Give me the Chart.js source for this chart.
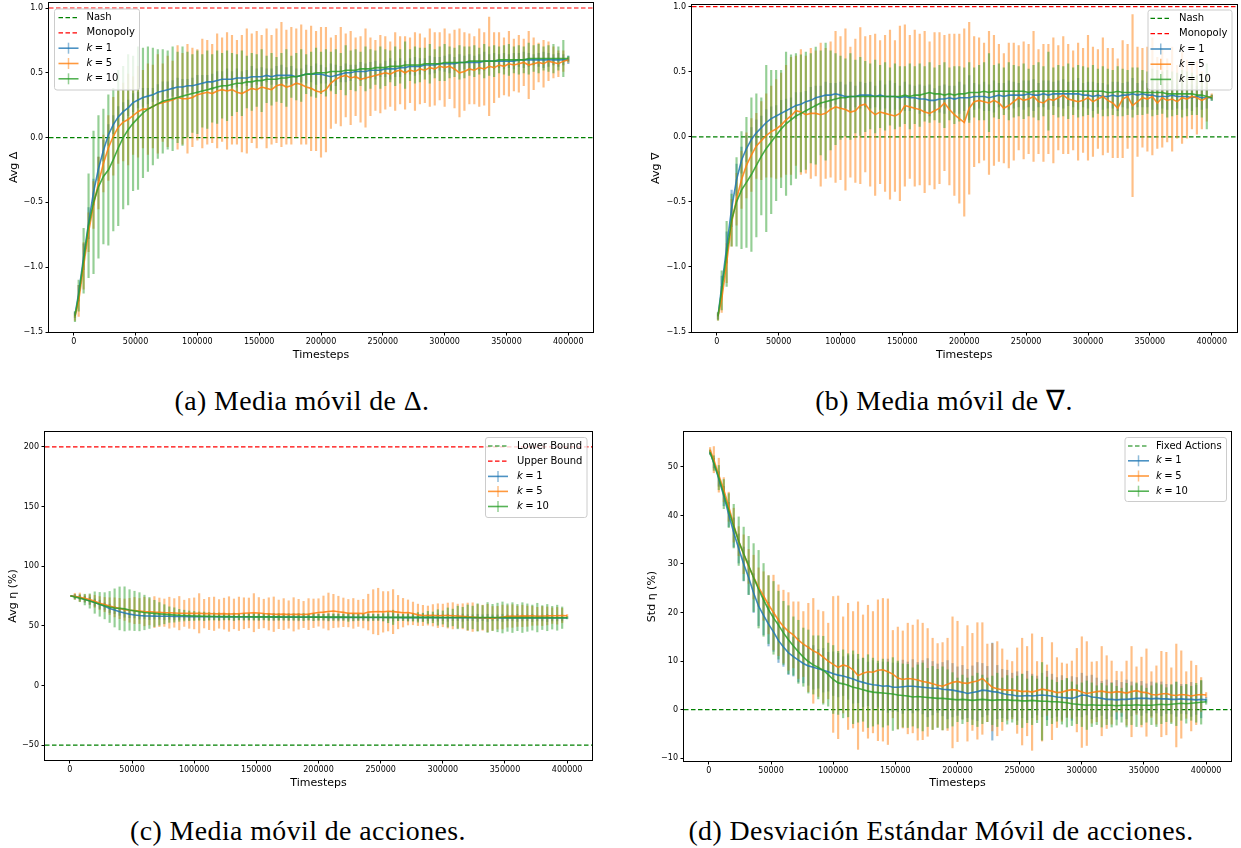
<!DOCTYPE html>
<html><head><meta charset="utf-8">
<script src="https://cdn.jsdelivr.net/npm/chart.js@4.4.1/dist/chart.umd.min.js"></script>
<style>
html,body{margin:0;padding:0;background:#fff;}
#wrap{position:relative;width:1241px;height:848px;overflow:hidden;background:#fff;}
canvas{position:absolute;}
.cap{position:absolute;font-family:'Liberation Serif',serif;font-size:27.8px;letter-spacing:0.45px;white-space:nowrap;transform:translate(-50%,-50%);color:#000;line-height:1;}
</style></head><body>
<div id="wrap">
<canvas id="ca" width="620" height="372" style="left:0px;top:0px"></canvas>
<canvas id="cb" width="621" height="372" style="left:620px;top:0px"></canvas>
<canvas id="cc" width="620" height="372" style="left:0px;top:420px"></canvas>
<canvas id="cd" width="621" height="372" style="left:620px;top:420px"></canvas>
<div class="cap" style="left:302px;top:401px">(a) Media móvil de Δ.</div>
<div class="cap" style="left:944px;top:401px">(b) Media móvil de ∇.</div>
<div class="cap" style="left:298px;top:831px">(c) Media móvil de acciones.</div>
<div class="cap" style="left:941px;top:831px">(d) Desviación Estándar Móvil de acciones.</div>
</div>
<script>
// ---------- DATA ----------
const T = [1000,4000,8000,12000,16000,20000,24000,28000,32000,36000,
40000,44000,48000,52000,56000,60000,64000,68000,72000,76000,
80000,84000,88000,92000,96000,100000,104000,108000,112000,116000,
120000,124000,128000,132000,136000,140000,144000,148000,152000,156000,
160000,164000,168000,172000,176000,180000,184000,188000,192000,196000,
200000,204000,208000,212000,216000,220000,224000,228000,232000,236000,
240000,244000,248000,252000,256000,260000,264000,268000,272000,276000,
280000,284000,288000,292000,296000,300000,304000,308000,312000,316000,
320000,324000,328000,332000,336000,340000,344000,348000,352000,356000,
360000,364000,368000,372000,376000,380000,384000,388000,392000,396000,
400000];
const X_TICKS = [0,50000,100000,150000,200000,250000,300000,350000,400000];
const K_VALUES = [1,5,10];
const REF_AB = ['Nash','Monopoly'];
const REF_C = ['Lower Bound','Upper Bound'];
const REF_D = ['Fixed Actions'];
const REF_AB_Y = [0,1];
const REF_C_Y = [-50,200];
const REF_D_Y = [0];
const Y_TICKS_AB = [-1.5,-1.0,-0.5,0.0,0.5,1.0];
const Y_TICKS_C = [-50,0,50,100,150,200];
const Y_TICKS_D = [-10,0,10,20,30,40,50];

// (a) Avg Delta
const aBlue = [-1.37,-1.20,-0.92,-0.66,-0.42,-0.24,-0.10,0.02,0.10,0.16,
0.20,0.23,0.27,0.29,0.31,0.32,0.33,0.35,0.36,0.37,
0.38,0.39,0.39,0.40,0.40,0.41,0.42,0.43,0.43,0.44,
0.45,0.45,0.45,0.46,0.46,0.46,0.47,0.47,0.47,0.48,
0.47,0.48,0.48,0.48,0.48,0.47,0.48,0.49,0.49,0.49,
0.49,0.48,0.47,0.48,0.49,0.50,0.50,0.51,0.51,0.51,
0.52,0.52,0.52,0.53,0.53,0.53,0.54,0.54,0.55,0.55,
0.55,0.56,0.56,0.56,0.57,0.57,0.57,0.57,0.58,0.58,
0.58,0.58,0.58,0.59,0.59,0.59,0.59,0.59,0.59,0.59,
0.60,0.60,0.60,0.60,0.60,0.60,0.60,0.60,0.60,0.60,
0.60];
const aBlueErr = [0.02,0.06,0.10,0.12,0.10,0.09,0.08,0.08,0.07,0.08,
0.07,0.06,0.07,0.06,0.07,0.06,0.05,0.06,0.07,0.06,
0.06,0.07,0.06,0.05,0.06,0.07,0.06,0.05,0.06,0.07,
0.06,0.08,0.06,0.07,0.05,0.06,0.08,0.06,0.07,0.05,
0.06,0.07,0.08,0.06,0.07,0.06,0.05,0.07,0.06,0.08,
0.07,0.06,0.10,0.08,0.06,0.07,0.06,0.05,0.07,0.06,
0.06,0.07,0.05,0.06,0.08,0.06,0.07,0.05,0.06,0.07,
0.06,0.05,0.07,0.06,0.05,0.06,0.07,0.05,0.06,0.05,
0.06,0.05,0.06,0.07,0.05,0.06,0.05,0.06,0.05,0.06,
0.05,0.06,0.05,0.04,0.05,0.06,0.05,0.04,0.05,0.04,
0.03];
const aOrange = [-1.38,-1.26,-0.99,-0.73,-0.52,-0.35,-0.20,-0.08,0.01,0.08,
0.12,0.14,0.17,0.20,0.22,0.22,0.24,0.26,0.27,0.28,
0.29,0.31,0.30,0.30,0.31,0.33,0.34,0.35,0.34,0.36,
0.37,0.36,0.37,0.35,0.34,0.36,0.38,0.37,0.39,0.38,
0.37,0.40,0.41,0.39,0.40,0.42,0.41,0.39,0.38,0.36,
0.35,0.37,0.42,0.45,0.47,0.48,0.46,0.47,0.45,0.46,
0.47,0.48,0.49,0.50,0.49,0.51,0.52,0.50,0.52,0.51,
0.53,0.52,0.54,0.53,0.55,0.54,0.55,0.53,0.50,0.51,
0.53,0.52,0.54,0.53,0.55,0.54,0.56,0.55,0.57,0.56,
0.57,0.58,0.56,0.57,0.58,0.57,0.59,0.58,0.57,0.59,
0.60];
const aOrangeErr = [0.03,0.12,0.18,0.15,0.18,0.20,0.22,0.25,0.30,0.28,
0.30,0.35,0.30,0.35,0.30,0.35,0.32,0.38,0.30,0.35,
0.30,0.40,0.35,0.42,0.38,0.35,0.42,0.40,0.38,0.44,
0.40,0.45,0.42,0.40,0.45,0.48,0.42,0.45,0.40,0.46,
0.42,0.44,0.48,0.44,0.45,0.42,0.46,0.44,0.48,0.46,
0.50,0.48,0.35,0.34,0.38,0.32,0.36,0.30,0.33,0.38,
0.30,0.27,0.30,0.28,0.25,0.30,0.26,0.28,0.25,0.30,
0.27,0.25,0.30,0.28,0.26,0.30,0.25,0.30,0.34,0.30,
0.27,0.26,0.30,0.28,0.38,0.27,0.25,0.22,0.25,0.20,
0.22,0.18,0.26,0.20,0.15,0.18,0.15,0.12,0.10,0.08,
0.02];
const aGreen = [-1.38,-1.22,-0.95,-0.68,-0.50,-0.38,-0.30,-0.25,-0.17,-0.08,
0.00,0.06,0.11,0.15,0.19,0.22,0.24,0.26,0.28,0.29,
0.30,0.31,0.32,0.33,0.34,0.35,0.36,0.37,0.38,0.39,
0.40,0.40,0.41,0.42,0.42,0.43,0.43,0.44,0.44,0.45,
0.45,0.45,0.46,0.46,0.47,0.47,0.48,0.49,0.49,0.50,
0.50,0.50,0.51,0.51,0.51,0.52,0.52,0.52,0.53,0.53,
0.53,0.54,0.54,0.54,0.55,0.55,0.55,0.56,0.56,0.56,
0.56,0.57,0.57,0.57,0.57,0.58,0.58,0.58,0.58,0.58,
0.59,0.59,0.59,0.59,0.59,0.59,0.60,0.60,0.60,0.60,
0.60,0.60,0.61,0.61,0.61,0.61,0.61,0.61,0.61,0.61,
0.61];
const aGreenErr = [0.04,0.12,0.25,0.40,0.55,0.55,0.52,0.58,0.55,0.60,
0.55,0.58,0.52,0.55,0.50,0.48,0.45,0.42,0.40,0.38,
0.40,0.35,0.38,0.33,0.30,0.32,0.28,0.30,0.26,0.28,
0.25,0.27,0.24,0.22,0.25,0.20,0.22,0.20,0.24,0.18,
0.20,0.17,0.19,0.22,0.16,0.18,0.20,0.15,0.17,0.19,
0.16,0.18,0.15,0.17,0.14,0.19,0.15,0.16,0.13,0.17,
0.15,0.13,0.16,0.14,0.12,0.15,0.13,0.18,0.12,0.14,
0.13,0.12,0.15,0.11,0.13,0.14,0.12,0.11,0.13,0.12,
0.11,0.12,0.10,0.13,0.11,0.12,0.10,0.11,0.12,0.10,
0.11,0.10,0.12,0.10,0.11,0.09,0.10,0.11,0.09,0.14,
0.02];

// (b) Avg Nabla
const bBlue = [-1.38,-1.15,-0.85,-0.55,-0.33,-0.18,-0.09,-0.02,0.03,0.07,
0.11,0.14,0.16,0.18,0.20,0.22,0.24,0.25,0.27,0.28,
0.30,0.31,0.32,0.32,0.33,0.32,0.31,0.31,0.31,0.32,
0.32,0.32,0.31,0.32,0.31,0.31,0.31,0.30,0.31,0.30,
0.30,0.29,0.29,0.28,0.28,0.29,0.29,0.30,0.29,0.30,
0.30,0.30,0.31,0.31,0.31,0.30,0.31,0.32,0.31,0.32,
0.32,0.32,0.32,0.33,0.32,0.32,0.33,0.32,0.33,0.33,
0.33,0.33,0.33,0.33,0.32,0.32,0.31,0.32,0.31,0.31,
0.32,0.31,0.32,0.32,0.33,0.32,0.33,0.32,0.32,0.31,
0.31,0.31,0.32,0.31,0.31,0.31,0.30,0.31,0.30,0.30,
0.30];
const bBlueErr = [0.02,0.08,0.12,0.14,0.12,0.10,0.10,0.09,0.10,0.09,
0.10,0.09,0.08,0.10,0.09,0.08,0.10,0.09,0.08,0.10,
0.09,0.08,0.10,0.09,0.08,0.10,0.09,0.11,0.08,0.10,
0.09,0.10,0.08,0.11,0.09,0.12,0.10,0.09,0.11,0.10,
0.09,0.11,0.10,0.12,0.09,0.10,0.11,0.09,0.10,0.12,
0.10,0.17,0.10,0.09,0.11,0.10,0.12,0.09,0.10,0.11,
0.10,0.09,0.11,0.10,0.12,0.09,0.10,0.11,0.09,0.10,
0.11,0.09,0.10,0.12,0.09,0.10,0.11,0.09,0.10,0.09,
0.10,0.11,0.09,0.10,0.12,0.09,0.10,0.09,0.11,0.10,
0.09,0.10,0.11,0.09,0.10,0.09,0.10,0.08,0.09,0.08,
0.02];
const bOrange = [-1.38,-1.25,-0.97,-0.66,-0.48,-0.33,-0.22,-0.14,-0.07,-0.03,
0.01,0.04,0.06,0.09,0.13,0.16,0.20,0.19,0.17,0.18,
0.18,0.17,0.18,0.21,0.23,0.22,0.21,0.19,0.20,0.24,
0.25,0.20,0.17,0.19,0.18,0.17,0.16,0.18,0.24,0.23,
0.22,0.21,0.19,0.18,0.20,0.22,0.26,0.21,0.17,0.14,
0.11,0.22,0.27,0.28,0.27,0.26,0.28,0.26,0.22,0.24,
0.27,0.30,0.28,0.29,0.31,0.27,0.26,0.29,0.28,0.30,
0.32,0.29,0.28,0.27,0.28,0.30,0.27,0.29,0.31,0.28,
0.26,0.22,0.29,0.31,0.24,0.27,0.30,0.29,0.31,0.26,
0.30,0.28,0.29,0.27,0.30,0.29,0.31,0.30,0.28,0.30,
0.31];
const bOrangeErr = [0.03,0.10,0.15,0.18,0.20,0.22,0.25,0.28,0.25,0.30,
0.32,0.35,0.38,0.40,0.42,0.45,0.42,0.48,0.45,0.50,
0.48,0.55,0.50,0.52,0.58,0.55,0.62,0.50,0.55,0.60,
0.52,0.58,0.62,0.55,0.60,0.65,0.58,0.67,0.62,0.55,
0.60,0.58,0.62,0.55,0.60,0.58,0.52,0.58,0.62,0.65,
0.72,0.66,0.50,0.48,0.45,0.55,0.50,0.45,0.42,0.48,
0.45,0.40,0.45,0.42,0.50,0.40,0.45,0.42,0.48,0.40,
0.45,0.42,0.38,0.45,0.40,0.48,0.42,0.38,0.45,0.40,
0.42,0.38,0.45,0.40,0.70,0.42,0.38,0.40,0.45,0.35,
0.38,0.32,0.40,0.28,0.35,0.30,0.25,0.28,0.22,0.18,
0.02];
const bGreen = [-1.38,-1.18,-0.90,-0.64,-0.50,-0.41,-0.35,-0.29,-0.22,-0.15,
-0.09,-0.04,0.01,0.06,0.10,0.13,0.16,0.18,0.20,0.22,
0.24,0.26,0.27,0.28,0.29,0.30,0.30,0.31,0.31,0.31,
0.31,0.31,0.31,0.31,0.31,0.31,0.31,0.31,0.32,0.31,
0.32,0.32,0.33,0.34,0.33,0.33,0.32,0.33,0.32,0.33,
0.33,0.34,0.34,0.34,0.35,0.34,0.35,0.35,0.35,0.35,
0.35,0.35,0.35,0.34,0.35,0.35,0.35,0.35,0.35,0.35,
0.35,0.35,0.35,0.35,0.35,0.35,0.35,0.35,0.35,0.34,
0.34,0.35,0.34,0.34,0.34,0.35,0.34,0.34,0.34,0.34,
0.34,0.33,0.33,0.33,0.33,0.33,0.33,0.32,0.32,0.31,
0.30];
const bGreenErr = [0.03,0.15,0.25,0.20,0.34,0.45,0.50,0.59,0.55,0.45,
0.64,0.55,0.50,0.45,0.55,0.50,0.48,0.45,0.45,0.42,
0.45,0.40,0.45,0.38,0.35,0.32,0.30,0.33,0.28,0.30,
0.27,0.25,0.28,0.24,0.26,0.22,0.25,0.23,0.22,0.25,
0.22,0.24,0.21,0.23,0.20,0.22,0.25,0.20,0.22,0.21,
0.20,0.23,0.19,0.21,0.22,0.30,0.20,0.21,0.18,0.22,
0.20,0.19,0.21,0.18,0.20,0.22,0.19,0.30,0.18,0.20,
0.19,0.21,0.18,0.20,0.19,0.18,0.20,0.17,0.19,0.18,
0.17,0.19,0.18,0.17,0.19,0.18,0.17,0.16,0.18,0.17,
0.16,0.18,0.17,0.16,0.18,0.17,0.16,0.15,0.17,0.25,
0.02];

// (c) Avg eta (%)
const cBlue = [75.0,74.6,73.6,72.3,71.0,69.5,68.0,66.3,64.6,63.2,
61.8,60.7,59.8,59.1,58.6,58.3,58.2,58.1,58.0,58.0,
58.0,57.9,57.8,57.8,57.7,57.7,57.6,57.6,57.6,57.6,
57.5,57.5,57.5,57.5,57.4,57.4,57.5,57.4,57.4,57.4,
57.4,57.3,57.3,57.3,57.3,57.3,57.2,57.2,57.2,57.3,
57.2,57.2,57.1,57.2,57.1,57.1,57.1,57.1,57.0,57.1,
57.0,57.0,57.0,57.0,57.0,57.0,57.0,56.9,57.0,56.9,
56.9,56.9,56.9,56.9,56.9,56.8,56.8,56.8,56.8,56.8,
56.8,56.8,56.7,56.8,56.7,56.7,56.7,56.7,56.7,56.7,
56.7,56.6,56.7,56.6,56.6,56.6,56.6,56.6,56.6,56.6,
56.6];
const cBlueErr = [0.5,1.5,2.0,2.5,3.0,3.0,3.5,3.0,3.5,3.0,
3.0,3.5,3.0,2.5,3.0,2.5,3.0,2.5,2.5,3.0,
2.5,3.0,2.5,2.5,3.0,2.5,2.5,3.0,2.5,2.5,
3.0,2.5,2.5,3.0,2.5,2.5,3.0,2.5,3.0,2.5,
2.5,3.0,2.5,2.5,3.0,2.5,3.0,2.5,2.5,3.0,
2.5,2.5,3.0,2.5,3.0,2.5,2.5,3.0,2.5,2.5,
3.0,2.5,2.5,3.0,2.5,3.0,2.5,2.5,3.0,2.5,
2.5,3.0,2.5,2.5,3.0,2.5,3.0,2.5,2.5,3.0,
2.5,2.5,3.0,2.5,3.0,2.5,2.5,3.0,2.5,2.5,
3.0,2.5,2.5,3.0,2.5,2.5,3.0,2.5,2.5,2.5,
0.5];
const cOrange = [75.0,74.8,74.0,73.0,72.0,70.5,69.0,67.8,66.5,65.5,
64.5,63.5,63.0,62.8,62.4,62.0,61.8,61.5,61.3,61.0,
61.0,60.8,60.6,60.5,60.4,60.4,60.5,60.2,60.3,60.1,
60.0,60.2,59.9,60.0,60.1,60.5,60.8,61.0,60.7,60.3,
60.0,59.7,59.6,59.8,59.5,59.6,59.7,59.5,59.8,60.5,
61.2,61.5,62.0,62.4,61.8,61.3,60.6,60.4,60.5,60.2,
61.5,61.8,62.0,61.7,62.2,61.9,61.5,61.0,61.2,60.4,
59.2,58.7,58.6,58.8,58.5,58.7,58.6,58.4,58.2,58.0,
57.6,57.3,56.9,56.8,56.5,56.2,56.8,57.4,57.9,58.2,
58.0,58.3,58.1,58.4,58.0,58.2,58.3,58.5,58.4,58.6,
58.5];
const cOrangeErr = [0.5,2.5,3.5,3.0,4.0,5.0,5.5,6.0,7.0,8.0,
8.5,9.0,10.0,11.0,10.5,12.0,11.0,13.0,12.0,11.5,
13.0,12.0,14.0,11.0,12.5,13.0,16.5,12.0,13.5,14.0,
12.0,13.0,14.5,12.5,14.0,13.0,12.5,16.0,13.0,12.0,
13.5,14.5,12.0,13.0,11.5,14.0,12.5,11.0,13.0,12.0,
11.5,13.5,15.5,14.0,13.0,12.0,11.5,12.5,11.0,12.0,
15.0,18.5,19.5,17.0,16.5,18.5,14.0,12.0,10.5,9.5,
9.0,8.5,8.0,9.0,10.0,9.5,10.5,11.0,10.0,10.5,
11.5,12.0,11.0,10.5,11.5,10.0,9.5,10.0,9.0,9.5,
8.5,9.0,8.5,8.0,7.5,8.0,7.5,6.5,7.0,6.0,
1.0];
const cGreen = [75.0,74.2,73.2,72.0,70.8,69.5,68.0,66.8,65.8,65.0,
64.6,64.2,63.3,62.5,61.8,61.2,60.8,60.4,60.0,59.7,
59.4,59.1,58.8,58.6,58.4,58.2,58.1,58.0,57.9,57.8,
57.8,57.7,57.7,57.6,57.6,57.6,57.6,57.5,57.5,57.5,
57.5,57.5,57.5,57.4,57.4,57.4,57.4,57.4,57.4,57.3,
57.3,57.3,57.3,57.3,57.3,57.3,57.2,57.2,57.2,57.2,
57.2,57.2,57.2,57.2,57.1,57.1,57.1,57.1,57.1,57.1,
57.1,57.1,57.1,57.1,57.0,57.0,57.0,57.0,57.0,57.0,
57.0,57.0,57.0,57.0,57.0,57.0,57.0,57.0,56.9,56.9,
56.9,56.9,56.9,56.9,56.9,56.9,56.9,56.8,56.8,56.8,
56.8];
const cGreenErr = [0.5,2.0,3.0,4.5,6.0,9.0,10.0,11.0,13.0,16.0,
18.0,18.5,17.0,16.5,16.0,14.5,13.0,11.0,9.5,8.0,
6.5,6.0,5.0,4.5,4.0,3.8,3.5,3.5,3.2,3.0,
3.0,2.8,2.8,3.0,2.6,2.8,2.5,2.7,2.6,2.5,
3.0,2.5,2.8,2.6,2.5,2.7,2.6,3.0,2.5,2.8,
2.6,2.5,2.8,2.7,2.5,2.6,3.5,2.7,2.6,2.5,
2.8,2.6,2.5,3.0,4.5,6.0,2.8,2.6,3.0,3.2,
4.0,3.5,5.0,4.5,6.5,5.5,8.0,7.0,9.5,8.5,
10.5,9.5,11.5,10.0,12.5,11.0,12.0,13.0,11.5,12.5,
11.0,12.5,11.5,10.5,12.0,10.0,11.0,9.5,10.5,9.0,
1.0];

// (d) Std eta (%)
const dBlue = [53.0,50.8,47.5,44.0,40.2,36.5,33.2,30.0,27.2,24.0,
21.3,19.4,17.6,16.0,14.2,12.9,11.7,10.9,10.2,9.5,
9.0,8.7,8.4,8.1,7.8,7.4,7.1,6.9,6.6,6.3,
5.9,5.6,5.3,5.1,5.0,4.8,4.9,4.6,4.6,4.7,
4.8,4.8,4.7,4.6,4.5,4.4,4.4,4.2,4.1,4.0,
3.8,3.6,3.3,3.5,3.7,4.0,3.9,3.7,3.6,3.3,
3.1,3.0,2.8,2.8,2.9,2.8,2.9,3.0,2.9,2.8,
2.6,2.5,2.4,2.3,2.6,3.0,2.9,2.6,2.5,2.3,
2.1,2.1,2.0,2.1,2.1,2.2,2.3,2.3,2.3,2.2,
2.3,2.2,2.2,2.1,2.1,2.2,2.1,2.1,2.0,2.1,
2.0];
const dBlueErr = [0.3,1.0,1.5,2.0,2.5,3.0,3.0,3.5,3.5,4.0,
4.0,4.0,4.5,4.0,4.5,4.0,4.5,4.0,4.5,4.0,
4.0,4.5,4.0,4.5,4.0,4.5,4.5,4.0,4.5,5.0,
4.5,5.0,4.5,5.0,4.5,5.0,5.5,5.0,5.0,5.5,
5.0,5.5,5.0,5.5,6.0,5.5,5.0,5.5,6.0,5.5,
5.0,5.5,5.0,5.5,6.0,5.5,5.0,10.0,5.5,5.0,
5.0,4.5,5.0,4.5,5.0,4.5,4.0,4.5,5.0,4.5,
4.0,4.5,4.0,4.5,4.0,4.5,4.0,4.5,4.0,3.5,
4.0,3.5,4.0,3.5,4.0,3.5,3.0,3.5,3.0,3.5,
3.0,3.5,3.0,3.0,3.5,3.0,3.0,3.5,3.0,3.8,
0.5];
const dOrange = [53.5,51.5,48.3,45.3,41.8,38.0,34.7,32.0,29.5,27.3,
25.2,23.4,21.6,20.0,18.4,17.1,16.1,15.4,14.3,13.5,
12.8,12.1,11.6,10.8,10.0,9.3,8.7,9.2,8.9,8.2,
7.0,7.5,7.8,7.7,8.1,8.2,7.8,7.3,6.5,6.2,
6.4,6.3,6.1,5.8,5.6,5.3,5.0,4.8,5.2,5.6,
5.8,5.5,5.4,5.7,5.9,6.4,5.5,4.6,4.3,4.1,
4.0,4.0,3.9,3.7,3.8,3.6,3.9,4.2,4.0,3.8,
3.5,3.6,3.9,4.1,4.0,3.6,3.3,3.5,3.7,3.8,
3.6,3.5,3.7,3.6,3.4,3.7,3.9,3.6,3.5,3.1,
3.0,3.2,3.3,3.0,2.9,3.1,3.0,2.8,3.0,3.1,
3.0];
const dOrangeErr = [0.5,2.7,3.5,2.5,3.0,3.5,3.0,4.0,3.5,4.5,
4.0,5.0,6.0,7.7,7.3,7.5,8.0,6.8,7.9,6.7,
9.1,10.8,8.9,9.4,7.8,14.0,14.7,9.9,13.0,12.0,
15.2,12.0,13.7,12.5,14.5,14.7,15.0,9.0,10.5,10.0,
11.4,11.1,12.4,12.0,11.1,9.4,8.6,9.0,9.5,13.5,
12.4,7.5,11.9,10.0,12.0,11.5,8.0,9.0,9.7,8.4,
6.2,5.9,8.8,11.0,9.2,12.0,6.0,10.7,5.2,10.0,
7.2,6.0,5.5,5.9,8.6,11.4,10.7,6.3,6.2,9.2,
7.5,6.5,4.2,4.2,6.6,9.3,4.9,7.2,9.0,4.7,
6.0,8.8,8.5,5.6,10.6,9.0,4.8,7.2,6.1,3.5,
0.5];
const dGreen = [53.0,50.8,47.8,44.4,41.0,37.8,34.7,32.1,29.7,27.2,
24.8,22.6,20.6,18.9,17.4,15.8,14.4,13.1,11.9,10.8,
9.9,9.2,8.7,8.1,7.2,6.2,5.5,5.3,5.0,4.6,
4.4,4.1,3.8,3.6,3.5,3.4,3.3,3.2,3.0,2.9,
2.8,2.6,2.7,2.6,2.5,2.4,2.3,2.3,2.2,2.1,
2.0,2.1,2.0,1.9,2.0,2.1,2.0,1.9,2.0,2.0,
2.0,1.9,1.9,1.8,1.8,1.9,1.8,1.7,1.7,1.6,
1.6,1.5,1.4,1.2,1.1,1.0,0.9,1.0,0.9,0.9,
0.9,0.9,0.8,0.9,0.9,0.9,1.0,0.9,0.9,0.9,
1.0,1.1,1.0,1.1,1.2,1.3,1.2,1.3,1.4,1.5,
1.6];
const dGreenErr = [0.5,1.5,2.5,3.0,3.5,4.5,5.0,5.5,6.0,7.0,
8.0,7.5,7.0,7.5,7.0,6.5,7.0,6.0,6.5,6.0,
6.5,6.0,6.5,7.0,6.5,7.0,6.5,7.0,6.5,7.5,
7.0,6.5,7.5,7.0,6.5,7.0,6.5,7.5,7.0,6.5,
6.5,6.0,6.5,7.0,6.0,6.5,6.0,6.5,6.0,5.5,
4.5,5.0,4.5,5.0,5.5,5.0,4.5,5.0,5.5,4.5,
5.0,4.5,5.0,5.5,4.5,5.0,4.5,8.0,5.0,4.5,
4.0,4.5,5.0,4.5,4.0,4.5,5.0,4.5,4.0,4.5,
4.0,4.5,4.0,3.5,4.5,4.0,4.5,4.0,3.5,4.0,
4.5,4.0,3.5,4.0,4.5,3.5,4.0,3.5,4.0,4.5,
0.5];

// ---------- STYLE / DRAWING ----------
Chart.defaults.font.family = '"DejaVu Sans", sans-serif';
const X_MIN = -20000, X_MAX = 420000;
const COLORS = [[31,119,180],[255,127,14],[44,160,44]];
const rgba = (c, a) => `rgba(${c[0]},${c[1]},${c[2]},${a})`;
const MINUS = '\u2212';

const framePlugin = {
  id: 'frame',
  afterDatasetsDraw(chart) {
    const {ctx, chartArea: a} = chart;
    ctx.save();
    ctx.strokeStyle = '#000';
    ctx.lineWidth = 1;
    const l = Math.round(a.left) - 0.5, t = Math.round(a.top) - 0.5;
    const r = Math.round(a.right) + 0.5, b = Math.round(a.bottom) + 0.5;
    ctx.strokeRect(l, t, r - l, b - t);
    ctx.restore();
  }
};

function makeLegend(L) {
  return {
    id: 'mplLegend',
    afterDraw(chart) {
      const ctx = chart.ctx;
      ctx.save();
      const b = L.box;
      ctx.beginPath();
      ctx.roundRect(b.x + 0.5, b.y + 0.5, b.w, b.h, 2.5);
      ctx.fillStyle = 'rgba(255,255,255,0.8)';
      ctx.fill();
      ctx.strokeStyle = '#cccccc';
      ctx.lineWidth = 1;
      ctx.stroke();
      L.items.forEach((it, i) => {
        const y = L.rows[i];
        if (it.kind === 'dash') {
          ctx.setLineDash([4.5, 2.5]);
          ctx.strokeStyle = it.color;
          ctx.lineWidth = 1.2;
          ctx.beginPath(); ctx.moveTo(L.x0, y); ctx.lineTo(L.x1, y); ctx.stroke();
          ctx.setLineDash([]);
        } else {
          const cx = (L.x0 + L.x1) / 2;
          ctx.strokeStyle = rgba(it.color, 0.5);
          ctx.lineWidth = 1.5;
          ctx.beginPath(); ctx.moveTo(cx, y - 5.5); ctx.lineTo(cx, y + 5.5); ctx.stroke();
          ctx.strokeStyle = rgba(it.color, 0.8);
          ctx.lineWidth = 1.6;
          ctx.beginPath(); ctx.moveTo(L.x0, y); ctx.lineTo(L.x1, y); ctx.stroke();
        }
        ctx.fillStyle = '#000';
        ctx.textBaseline = 'middle';
        ctx.textAlign = 'left';
        if (it.k !== undefined) {
          ctx.font = 'italic 10px "DejaVu Sans"';
          ctx.fillText('k', L.tx, y);
          const w = ctx.measureText('k').width;
          ctx.font = '10px "DejaVu Sans"';
          ctx.fillText('\u2005=\u2005' + it.k, L.tx + w, y);
        } else {
          ctx.font = '10px "DejaVu Sans"';
          ctx.fillText(it.label, L.tx, y);
        }
      });
      ctx.restore();
    }
  };
}

function tickGrid() {
  return {display: true, drawOnChartArea: false, drawTicks: true, tickLength: 3.5,
          color: '#000', tickColor: '#000', tickWidth: 1, lineWidth: 1, offset: false};
}

function makeChart(id, P) {
  const datasets = [];
  P.refs.forEach(r => datasets.push({
    type: 'line', label: r.label,
    data: [{x: X_MIN, y: r.y}, {x: X_MAX, y: r.y}],
    borderColor: r.color, borderWidth: 1.2, borderDash: [4.5, 2.5],
    pointRadius: 0, order: 6
  }));
  P.series.forEach((s, k) => {
    datasets.push({
      type: 'bar', label: 'k=' + K_VALUES[k] + ' err',
      data: T.map((t, i) => ({x: t, y: [s.m[i] - s.e[i], s.m[i] + s.e[i]]})),
      backgroundColor: rgba(COLORS[k], 0.5), borderWidth: 0,
      barThickness: 1.5, maxBarThickness: 1.5, grouped: false, order: 5 - k
    });
    datasets.push({
      type: 'line', label: 'k=' + K_VALUES[k],
      data: T.map((t, i) => ({x: t, y: s.m[i]})),
      borderColor: rgba(COLORS[k], 0.85), borderWidth: 1.6,
      pointRadius: 0, tension: 0, order: 2 - k
    });
  });
  const legendItems = P.refs.map(r => ({kind: 'dash', color: r.color, label: r.label}))
    .concat(K_VALUES.map((kv, k) => ({kind: 'err', color: COLORS[k], k: kv})));
  const L = Object.assign({items: legendItems}, P.legend);
  return new Chart(document.getElementById(id), {
    type: 'line',
    data: {datasets},
    options: {
      responsive: false, animation: false, events: [],
      layout: {padding: P.pad},
      plugins: {legend: {display: false}, tooltip: {enabled: false}},
      scales: {
        x: {
          type: 'linear', min: X_MIN, max: X_MAX, offset: false,
          afterFit: sc => { sc.height = P.xh; sc.paddingLeft = 0; sc.paddingRight = 0; },
          afterBuildTicks: sc => { sc.ticks = X_TICKS.map(v => ({value: v})); },
          ticks: {autoSkip: false, maxRotation: 0, minRotation: 0, padding: 2, color: '#000',
                  font: {size: 8}, callback: v => String(v)},
          grid: tickGrid(), border: {display: false},
          title: {display: true, text: 'Timesteps', color: '#000', font: {size: 11},
                  padding: {top: 0, bottom: P.xtPad}}
        },
        y: {
          type: 'linear', min: P.ymin, max: P.ymax,
          afterFit: sc => { sc.width = P.yw; sc.paddingTop = 0; sc.paddingBottom = 0; },
          afterBuildTicks: sc => { sc.ticks = P.yticks.map(v => ({value: v})); },
          ticks: {autoSkip: false, padding: 2.5, color: '#000', font: {size: 8}, callback: P.yfmt},
          grid: tickGrid(), border: {display: false},
          title: {display: true, text: P.ytitle, color: '#000', font: {size: 11},
                  padding: {top: P.ytPad, bottom: 0}}
        }
      }
    },
    plugins: [framePlugin, makeLegend(L)]
  });
}

const fmt1 = v => v.toFixed(1).replace('-', MINUS);
const fmt0 = v => String(Math.round(v)).replace('-', MINUS);
const refsAB = REF_AB.map((l, i) => ({label: l, y: REF_AB_Y[i], color: i === 0 ? '#008000' : '#ff0000'}));
const refsC = REF_C.map((l, i) => ({label: l, y: REF_C_Y[i], color: i === 0 ? '#008000' : '#ff0000'}));
const refsD = REF_D.map((l, i) => ({label: l, y: REF_D_Y[i], color: '#008000'}));

makeChart('ca', {
  refs: refsAB,
  series: [{m: aBlue, e: aBlueErr}, {m: aOrange, e: aOrangeErr}, {m: aGreen, e: aGreenErr}],
  pad: {left: 0, top: 2.7, right: 27, bottom: 0}, yw: 49, xh: 40, xtPad: 10.4,
  ymin: -1.5, ymax: 1.041, yticks: Y_TICKS_AB, yfmt: fmt1, ytitle: 'Avg Δ', ytPad: 7.6,
  legend: {box: {x: 54, y: 8.5, w: 85, h: 81}, rows: [17.6, 32.9, 48.2, 63.5, 78.8], x0: 58.5, x1: 78.5, tx: 86.5}
});
makeChart('cb', {
  refs: refsAB,
  series: [{m: bBlue, e: bBlueErr}, {m: bOrange, e: bOrangeErr}, {m: bGreen, e: bGreenErr}],
  pad: {left: 0, top: 4.7, right: 4.5, bottom: 0}, yw: 72, xh: 40, xtPad: 10.4,
  ymin: -1.5, ymax: 1.015, yticks: Y_TICKS_AB, yfmt: fmt1, ytitle: 'Avg ∇', ytPad: 29.8,
  legend: {box: {x: 527.5, y: 9.5, w: 84, h: 80}, rows: [18.3, 33.7, 49, 64.2, 79.4], x0: 530.5, x1: 551, tx: 559}
});
makeChart('cc', {
  refs: refsC,
  series: [{m: cBlue, e: cBlueErr}, {m: cOrange, e: cOrangeErr}, {m: cGreen, e: cGreenErr}],
  pad: {left: 0, top: 12, right: 28, bottom: 0}, yw: 45, xh: 32, xtPad: 2.4,
  ymin: -62.5, ymax: 212.5, yticks: Y_TICKS_C, yfmt: fmt0, ytitle: 'Avg η (%)', ytPad: 6.6,
  legend: {box: {x: 485, y: 17, w: 101.5, h: 80}, rows: [26, 41.2, 56.4, 71.4, 86.5], x0: 488, x1: 508, tx: 517}
});
makeChart('cd', {
  refs: refsD,
  series: [{m: dBlue, e: dBlueErr}, {m: dOrange, e: dOrangeErr}, {m: dGreen, e: dGreenErr}],
  pad: {left: 0, top: 12, right: 10, bottom: 0}, yw: 64, xh: 31, xtPad: 2.4,
  ymin: -10.6, ymax: 57.2, yticks: Y_TICKS_D, yfmt: fmt0, ytitle: 'Std η (%)', ytPad: 25.7,
  legend: {box: {x: 504.5, y: 17, w: 101.5, h: 64}, rows: [26, 40.8, 56, 71.2], x0: 508, x1: 529, tx: 536}
});
</script>
</body></html>
